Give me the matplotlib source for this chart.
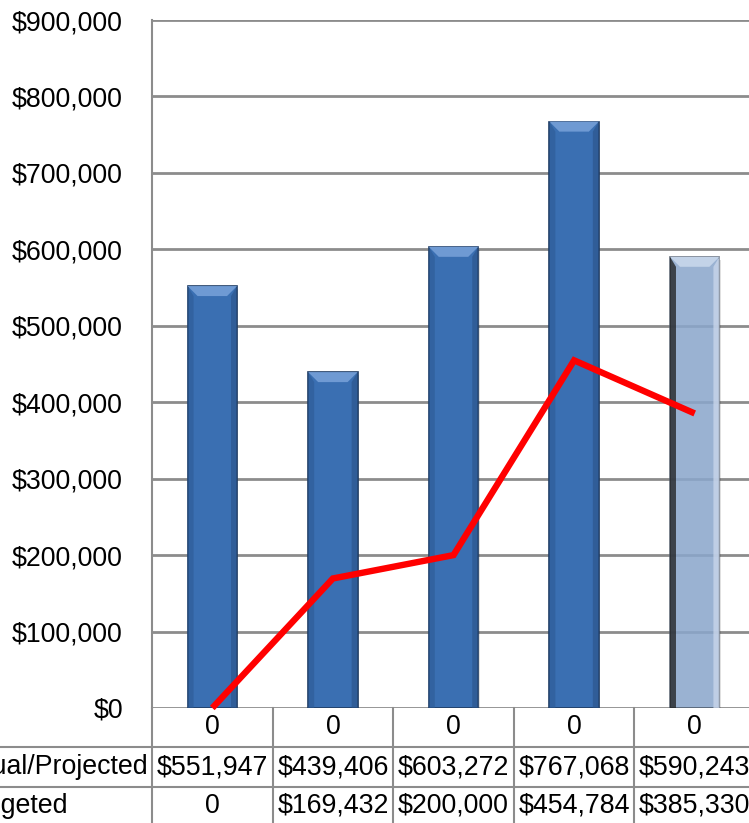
import matplotlib
matplotlib.use("Agg")
import matplotlib.pyplot as plt
from matplotlib.patches import Polygon
from matplotlib.lines import Line2D
from matplotlib.ticker import FuncFormatter
from matplotlib.transforms import blended_transform_factory

categories = ["0", "0", "0", "0", "0"]
actual = [551947, 439406, 603272, 767068, 590243]
budgeted = [0, 169432, 200000, 454784, 385330]
row_names = ["Actual/Projected", "Budgeted"]
y_ticks = [0, 100000, 200000, 300000, 400000, 500000, 600000, 700000, 800000, 900000]

W, H = 749, 823
FS = 19.3
plt.rcParams["font.family"] = ["Liberation Sans", "DejaVu Sans"]

fig = plt.figure(figsize=(W / 100, H / 100), dpi=100)
# plot area runs past the right edge of the figure
ax = fig.add_axes([152 / W, (H - 708) / H, (755 - 152) / W, (708 - 20) / H])

x = list(range(len(categories)))
bar_w = 0.41
ax.set_xlim(-0.5, len(categories) - 0.5)
ax.set_ylim(0, 900000)

ax.set_yticks(y_ticks)
ax.yaxis.set_major_formatter(FuncFormatter(lambda v, p: f"${v:,.0f}"))
ax.tick_params(axis="y", length=0, pad=21, labelsize=FS)
ax.set_xticks([])
ax.grid(axis="y", color="#8c8c8c", linewidth=2)
ax.set_axisbelow(True)
for side in ["top", "right", "bottom"]:
    ax.spines[side].set_visible(False)
ax.spines["left"].set_color("#8c8c8c")
ax.spines["left"].set_linewidth(1.5)

# bevel sizes in data units (about 10 px)
bx = 10 / 120.5
by = 10 / 76.44 * 100000

colors = ["#3a6fb2"] * 4 + ["#8eaad0"]
tops = ["#6f9ad3"] * 4 + ["#c3d3e8"]
for i, v in enumerate(actual):
    last = i == len(actual) - 1
    left = i - bar_w / 2
    right = i + bar_w / 2
    # soft shadow
    ax.bar(i + 0.012, v, bar_w, bottom=-4000, color="#000000", alpha=0.12, zorder=2)
    ax.bar(i, v, bar_w, color=colors[i], edgecolor="#1f3c63" if not last else "#4a5563",
           linewidth=1.2, alpha=0.85 if last else 1.0, zorder=3)
    # darker side strips
    ax.add_patch(Polygon([(left, 0), (left + bx * 0.6, 0), (left + bx * 0.6, v - by), (left, v)],
                         closed=True, color="#1d1d1d" if last else "#2d5a94",
                         alpha=0.75 if last else 0.6, zorder=4, linewidth=0))
    ax.add_patch(Polygon([(right, 0), (right - bx * 0.6, 0), (right - bx * 0.6, v - by), (right, v)],
                         closed=True, color="#c9d6ea" if last else "#2a5288",
                         alpha=0.8 if last else 0.6, zorder=4, linewidth=0))
    # top bevel
    ax.add_patch(Polygon([(left, v), (right, v), (right - bx, v - by), (left + bx, v - by)],
                         closed=True, color=tops[i], zorder=4, linewidth=0))

ax.plot(x, budgeted, color="#ff0000", linewidth=4.6, solid_joinstyle="miter",
        solid_capstyle="butt", zorder=6, clip_on=False)

# data table under the plot
tr = blended_transform_factory(ax.transData, fig.transFigure)
def fy(px):
    return 1 - px / H

grid_kw = dict(color="#8c8c8c", linewidth=1.5)
for py in [747, 787]:
    fig.add_artist(Line2D([0, 1], [fy(py), fy(py)], transform=fig.transFigure, **grid_kw))
for b in [i - 0.5 for i in range(len(categories) + 1)]:
    ax.add_line(Line2D([b, b], [fy(708), fy(H + 5)], transform=tr, clip_on=False, **grid_kw))

for i, c in enumerate(categories):
    ax.text(i, fy(727), c, transform=tr, ha="center", va="center", fontsize=FS)
    ax.text(i, fy(767), f"${actual[i]:,}", transform=tr, ha="center", va="center", fontsize=FS)
    b = budgeted[i]
    ax.text(i, fy(806), f"${b:,}" if b else "0", transform=tr, ha="center", va="center",
            fontsize=FS)

for name, py in zip(row_names, [767, 806]):
    fig.text(-46 / W, fy(py), name, ha="left", va="center", fontsize=FS)

fig.savefig("out.png", dpi=100)
